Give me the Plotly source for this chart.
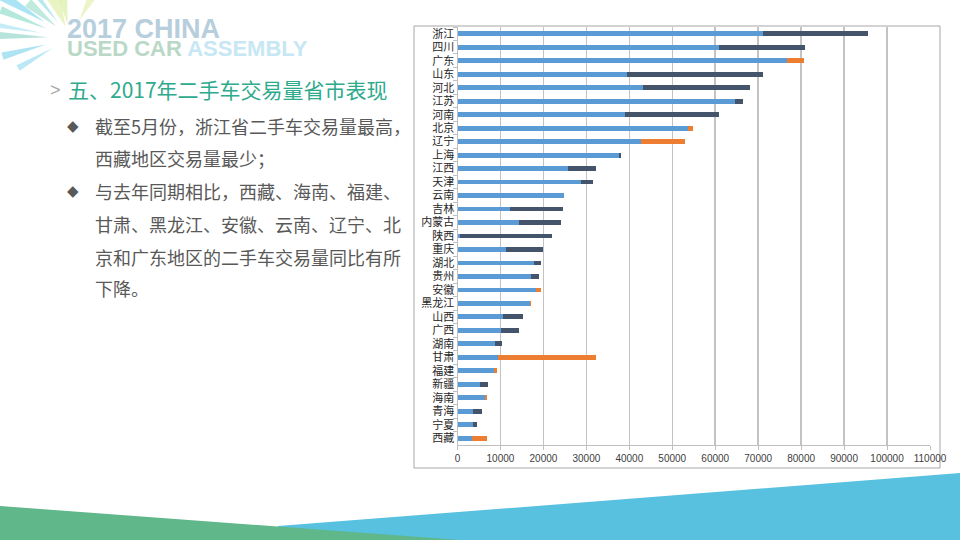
import math
import plotly.graph_objects as go

# ---------------- data ----------------
provinces = ["浙江", "四川", "广东", "山东", "河北", "江苏", "河南", "北京", "辽宁", "上海",
             "江西", "天津", "云南", "吉林", "内蒙古", "陕西", "重庆", "湖北", "贵州", "安徽",
             "黑龙江", "山西", "广西", "湖南", "甘肃", "福建", "新疆", "海南", "青海", "宁夏", "西藏"]
vol_2017 = [95500, 80900, 76800, 71200, 68200, 66400, 60800, 53700, 42800, 38100,
            32300, 31600, 24900, 24500, 24000, 21900, 19900, 19400, 19000, 18200,
            16800, 15300, 14300, 10400, 9400, 8400, 7200, 6500, 5700, 4600, 3400]
vol_2016 = [71200, 60800, 80700, 39500, 43300, 64700, 39100, 54900, 53000, 37600,
            25800, 28700, 24700, 12300, 14300, 550, 11300, 17800, 17200, 19500,
            17200, 10500, 10100, 8800, 32200, 9100, 5300, 6900, 3500, 3500, 6800]
x_ticks = [0, 10000, 20000, 30000, 40000, 50000, 60000, 70000, 80000, 90000, 100000, 110000]

base = [min(a, b) for a, b in zip(vol_2017, vol_2016)]
rise = [max(a - b, 0) for a, b in zip(vol_2017, vol_2016)]
fall = [max(b - a, 0) for a, b in zip(vol_2017, vol_2016)]

W, H = 960, 540
def px(x):
    return x / W
def py(y):
    return 1 - y / H

fig = go.Figure()
fig.add_trace(go.Bar(y=provinces, x=base, orientation="h", marker=dict(color="#5B9BD5", line=dict(width=0)), name="base"))
fig.add_trace(go.Bar(y=provinces, x=rise, orientation="h", marker=dict(color="#44546A", line=dict(width=0)), name="rise"))
fig.add_trace(go.Bar(y=provinces, x=fall, orientation="h", marker=dict(color="#ED7D31", line=dict(width=0)), name="fall"))

shapes = []
# bottom decorative bands
shapes.append(dict(type="path", xref="paper", yref="paper", layer="below",
                   path=f"M {px(278)} {py(526)} L {px(960)} {py(473)} L {px(960)} {py(540)} L {px(278)} {py(540)} Z",
                   fillcolor="#58C1DF", line=dict(width=0)))
shapes.append(dict(type="path", xref="paper", yref="paper", layer="below",
                   path=f"M {px(0)} {py(506)} L {px(460)} {py(540)} L {px(0)} {py(540)} Z",
                   fillcolor="#5FB78A", line=dict(width=0)))
# chart frame
shapes.append(dict(type="rect", xref="paper", yref="paper", layer="below",
                   x0=px(414), x1=px(940), y0=py(468), y1=py(26),
                   line=dict(color="#A6A6A6", width=1), fillcolor="white"))

# sunburst rays (decorative) : (angle deg, r_in, r_out, half-width deg, color)
cx, cy = 70, 38
rays = [(148, 30, 85, 4, "#8FDCF2"), (158, 25, 75, 3, "#9BE0CF"), (140, 18, 55, 5, "#A9E3D2"),
        (112, 12, 45, 9, "#E2F0B0"), (100, 14, 40, 6, "#DCEFA8"), (62, 20, 45, 5, "#E6F2B8"),
        (178, 22, 75, 3, "#9DDBD0"), (195, 25, 70, 3, "#93D9F0"), (210, 20, 60, 3, "#A5E0F2"),
        (128, 20, 70, 3, "#9FE0E6"), (170, 30, 80, 2, "#B2E6F4")]
for ang, r0, r1, hw, col in rays:
    a = math.radians(ang)
    a1 = math.radians(ang - hw)
    a2 = math.radians(ang + hw)
    p0 = (cx + r0 * math.cos(a), cy - r0 * math.sin(a))
    p1 = (cx + r1 * math.cos(a1), cy - r1 * math.sin(a1))
    p2 = (cx + r1 * math.cos(a2), cy - r1 * math.sin(a2))
    shapes.append(dict(type="path", xref="paper", yref="paper", layer="below",
                       path=f"M {px(p0[0])} {py(p0[1])} L {px(p1[0])} {py(p1[1])} L {px(p2[0])} {py(p2[1])} Z",
                       fillcolor=col, opacity=0.75, line=dict(width=0)))

annotations = []
def txt(x, y, text, size, color, family="Noto Sans CJK SC", anchor="left"):
    annotations.append(dict(x=px(x), y=py(y), xref="paper", yref="paper", text=text, showarrow=False,
                            xanchor=anchor, yanchor="middle", align="left", borderpad=0,
                            font=dict(size=size, color=color, family=family)))

# logo
txt(66, 29, "<b><span style='color:#B7CEDD'>2017 CHINA</span></b>", 27, "#B7CEDD", "Liberation Sans")
txt(66, 48, "<b><span style='color:#B9D8C6'>USED CAR </span><span style='color:#C6E7F3'>ASSEMBLY</span></b>", 22, "#B9D8C6", "Liberation Sans")

# title & bullets
txt(49, 90, ">", 18, "#A6A6A6", "Liberation Sans")
txt(67, 89, "五、2017年二手车交易量省市表现", 21, "#2EAA8C")
txt(66, 126, "◆", 15, "#595959", "DejaVu Sans")
txt(66, 191, "◆", 15, "#595959", "DejaVu Sans")
body = [(126, "截至5月份，浙江省二手车交易量最高，"), (158, "西藏地区交易量最少；"),
        (191, "与去年同期相比，西藏、海南、福建、"), (224, "甘肃、黑龙江、安徽、云南、辽宁、北"),
        (257, "京和广东地区的二手车交易量同比有所"), (288, "下降。")]
for yy, t in body:
    txt(94, yy, t, 18, "#595959")

fig.update_layout(
    width=W, height=H, margin=dict(l=0, r=0, t=0, b=0, pad=0, autoexpand=False),
    paper_bgcolor="white", plot_bgcolor="rgba(0,0,0,0)",
    barmode="stack", bargap=0.64, showlegend=False,
    shapes=shapes, annotations=annotations,
    xaxis=dict(domain=[px(457.5), px(930)], range=[0, 110000], tickvals=x_ticks, tickformat="d",
               showgrid=True, gridcolor="#C3C3C3", gridwidth=1.5, zeroline=False, automargin=False,
               showline=True, linecolor="#BFBFBF", linewidth=1, ticks="outside", ticklen=4,
               tickcolor="#BFBFBF", tickfont=dict(size=10, color="#404040", family="Liberation Sans")),
    yaxis=dict(domain=[py(445), py(27)], type="category", autorange="reversed", automargin=False,
               showgrid=False, showline=True, linecolor="#BFBFBF", linewidth=1,
               ticks="outside", tickson="boundaries", ticklen=4, tickcolor="#BFBFBF",
               tickfont=dict(size=11, color="#262626", family="Noto Sans CJK SC")),
)

page_fix = ("var s=document.createElement('style');"
            "s.textContent='html,body{margin:0;padding:0;width:960px;height:540px;overflow:hidden;}"
            ".plotly-graph-div{display:block;}';"
            "document.head.appendChild(s);")

fig.write_html("out.html", config={"displayModeBar": False, "staticPlot": True}, post_script=page_fix)
